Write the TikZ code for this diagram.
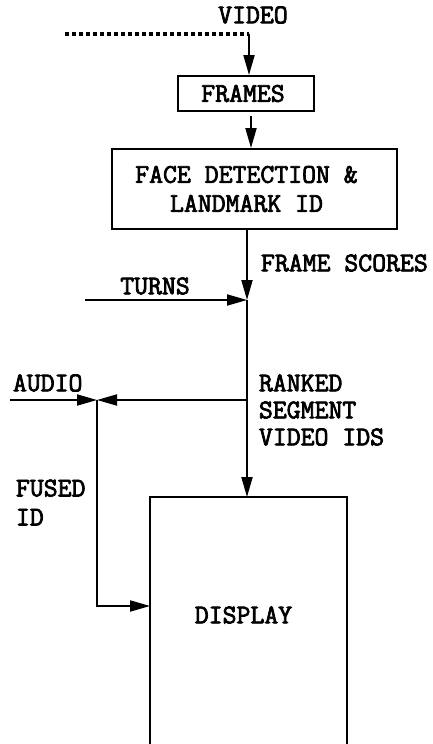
\documentclass[tikz,border=0pt]{standalone}
\usepackage{fontspec}
\newfontfamily\courb{Latin Modern Mono}[FakeBold=2.8]
\usetikzlibrary{arrows.meta,calc}
\begin{document}
\begin{tikzpicture}[x=1pt,y=-1pt,line width=1.9pt,
  lbl/.style={font=\fontsize{27}{29}\selectfont\courb,inner sep=0pt},
  box/.style={draw,line width=1.9pt,inner sep=0pt},
  arr/.style={-{Triangle[length=20pt,width=11pt]}},
  dotline/.style={line width=4pt,dash pattern=on 4pt off 3pt}]
\useasboundingbox (0,0) rectangle (432,744);
% coordinates
\coordinate (dotL) at (65,34);
\coordinate (vtop) at (249,34);
\coordinate (fx) at (251,0);
\coordinate (junc) at (247,300);
\coordinate (turnsL) at (85,300);
\coordinate (split) at (247,400);
\coordinate (fuse) at (97,400);
\coordinate (audioL) at (10,400);
\coordinate (bend) at (97,606);
% nodes
\node[lbl] (video) at (253,15) {VIDEO};
\node[box,lbl,minimum width=136pt,minimum height=35pt] (frames) at (246,93.5) {FRAMES\hspace*{6pt}};
\node[box,lbl,minimum width=285pt,minimum height=80pt,align=center] (face) at (254.5,189) {FACE DETECTION \&\hspace*{16pt}\\LANDMARK ID\hspace*{16pt}};
\node[lbl,anchor=west] (fs) at (260,263) {FRAME SCORES};
\node[lbl] (turns) at (155,286) {TURNS};
\node[lbl,anchor=west] (audio) at (12,383) {AUDIO};
\node[lbl,anchor=west,align=left,font=\fontsize{27}{27}\selectfont\courb] (ranked) at (258,410) {RANKED\\SEGMENT\\VIDEO IDS};
\node[lbl,anchor=west,align=left] (fused) at (15,502.5) {FUSED\\ID};
\node[lbl,minimum width=195pt,minimum height=234pt] (display) at (248.5,615) {DISPLAY\hspace*{10pt}};
% display outline (open at bottom, runs off the page)
\draw ([yshift=-30pt]display.south west) -- (display.north west) -- (display.north east) -- ([yshift=-30pt]display.south east);
% connectors
\draw[dotline] (dotL) -- (vtop);
\draw[arr] (vtop) -- (vtop |- frames.north);
\draw[arr] ($(frames.south -| fx)+(0,4)$) -- (face.north -| fx);
\draw[arr] (face.south -| junc) -- (junc);
\draw[arr] (turnsL) -- (junc);
\draw[arr] (junc) -- (junc |- display.north);
\draw[arr] (split) -- (fuse);
\draw[arr] (audioL) -- (fuse);
\draw[arr] (fuse) -- (bend) -- (bend -| display.west);
\end{tikzpicture}
\end{document}
